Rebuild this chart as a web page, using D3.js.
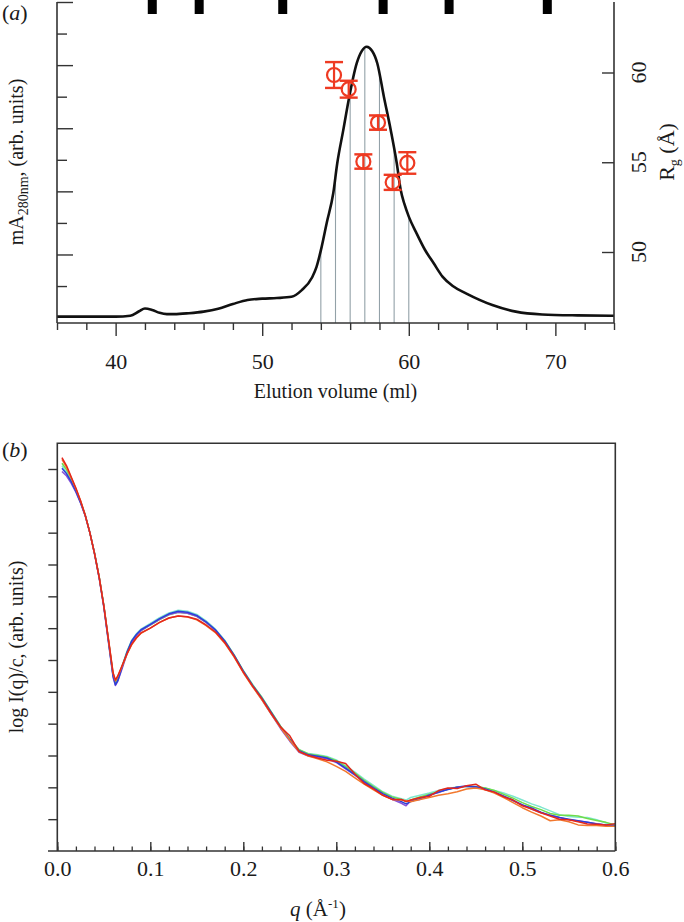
<!DOCTYPE html>
<html><head><meta charset="utf-8">
<script src="https://cdnjs.cloudflare.com/ajax/libs/d3/7.8.5/d3.min.js"></script>
<style>
body{margin:0;background:#fff}
svg{display:block}
text{font-family:"Liberation Serif","Times New Roman",serif;fill:#1a1a1a}
</style>
</head><body><svg id="c" width="684" height="922"></svg>
<script>
// ---------- Panel (a) data ----------
const elutionMl = [36,40,41,41.6,42,42.5,43,43.5,44,45,46,47,48,49,50,51,52.0,52.7,53.4,53.7,54.06,54.4,54.85,55.12,55.53,55.94,56.45,56.8,57.13,57.5,57.85,58.3,58.77,59.18,59.45,59.7,60.0,60.5,61.1,61.7,62.3,63.0,63.9,65.7,67.3,69.1,71.5,74];
const absorbance = [0.03,0.03,0.06,0.2,0.29,0.24,0.15,0.11,0.11,0.14,0.19,0.28,0.43,0.56,0.60,0.62,0.66,0.87,1.27,1.6,2.25,3.0,3.95,4.89,5.94,7.0,8.06,8.45,8.58,8.45,8.06,7.0,5.94,4.89,4.04,3.6,3.2,2.7,2.15,1.72,1.3,1.0,0.77,0.40,0.19,0.10,0.07,0.06];
const frameMl = [54,55,56,57,58,59,60];
const rgMl = [54.9,55.9,56.9,57.9,58.9,59.9];
const rgValue = [59.86,59.07,55.04,57.21,53.88,54.96];
const rgError = [0.72,0.47,0.4,0.4,0.42,0.6];
const standardsMl = [42.5,45.7,51.4,58.25,62.75,69.45];
const xTicksA = [40,50,60,70];
const rgTicks = [50,55,60];

// ---------- Panel (b) data ----------
const q = [0.005,0.01,0.015,0.02,0.025,0.03,0.035,0.04,0.045,0.05,0.055,0.06,0.0625,0.065,0.07,0.075,0.08,0.085,0.09,0.1,0.11,0.12,0.13,0.14,0.15,0.16,0.17,0.18,0.19,0.2,0.21,0.22,0.23,0.24,0.25,0.26,0.27,0.28,0.29,0.3,0.31,0.32,0.33,0.34,0.35,0.36,0.37,0.375,0.38,0.39,0.4,0.41,0.42,0.43,0.44,0.45,0.46,0.47,0.48,0.49,0.5,0.51,0.52,0.53,0.54,0.55,0.56,0.57,0.58,0.59,0.6];
const logI_cyan = [12.1,11.9,11.62,11.3,10.95,10.54,10.0,9.36,8.6,7.7,6.6,5.52,5.26,5.4,5.84,6.28,6.62,6.82,6.97,7.15,7.33,7.48,7.56,7.53,7.43,7.23,6.97,6.62,6.17,5.67,5.23,4.83,4.38,3.93,3.53,3.18,3.06,3.02,2.97,2.86,2.68,2.48,2.26,2.06,1.86,1.72,1.64,1.6,1.68,1.75,1.82,1.9,1.96,2.01,2.04,2.03,1.98,1.9,1.82,1.72,1.6,1.48,1.38,1.26,1.14,1.08,1.06,1.05,0.98,0.88,0.82];
const logI_green = [12.18,11.98,11.7,11.35,10.98,10.56,10.0,9.36,8.62,7.72,6.62,5.52,5.28,5.42,5.82,6.24,6.58,6.78,6.92,7.1,7.27,7.42,7.5,7.47,7.37,7.18,6.93,6.6,6.16,5.66,5.22,4.82,4.37,3.92,3.52,3.18,3.05,3.0,2.95,2.84,2.65,2.45,2.22,2.02,1.84,1.7,1.62,1.55,1.6,1.7,1.78,1.86,1.94,2.0,2.03,2.02,1.98,1.9,1.78,1.66,1.52,1.4,1.3,1.18,1.12,1.12,1.1,1.02,0.96,0.9,0.82];
const logI_purple = [11.92,11.78,11.55,11.27,10.93,10.53,10.0,9.34,8.58,7.66,6.55,5.45,5.2,5.33,5.76,6.2,6.55,6.76,6.92,7.1,7.28,7.43,7.5,7.47,7.37,7.18,6.93,6.58,6.13,5.63,5.18,4.76,4.3,3.85,3.45,3.1,2.98,2.95,2.9,2.78,2.58,2.38,2.16,1.96,1.78,1.62,1.5,1.42,1.58,1.62,1.76,1.84,1.95,2.0,2.05,2.0,1.94,1.84,1.72,1.58,1.45,1.32,1.2,1.12,1.05,0.98,0.94,0.9,0.86,0.82,0.8];
const logI_blue = [12.02,11.85,11.6,11.3,10.95,10.55,10.0,9.35,8.6,7.7,6.6,5.5,5.22,5.35,5.8,6.25,6.6,6.8,6.95,7.12,7.3,7.45,7.53,7.5,7.4,7.2,6.95,6.6,6.15,5.65,5.2,4.8,4.35,3.9,3.5,3.15,3.02,2.98,2.92,2.8,2.6,2.4,2.18,1.98,1.8,1.66,1.55,1.48,1.55,1.65,1.75,1.85,1.93,2.0,2.03,2.02,1.95,1.85,1.72,1.6,1.45,1.35,1.22,1.12,1.05,1.0,0.95,0.9,0.85,0.82,0.8];
const logI_orange = [12.3,12.05,11.72,11.38,11.0,10.55,10.0,9.35,8.62,7.72,6.65,5.58,5.35,5.48,5.82,6.18,6.48,6.68,6.84,7.0,7.18,7.32,7.38,7.35,7.26,7.08,6.86,6.53,6.1,5.6,5.16,4.75,4.3,3.88,3.48,3.12,2.98,2.9,2.8,2.66,2.5,2.3,2.1,1.92,1.75,1.62,1.6,1.58,1.55,1.62,1.68,1.75,1.8,1.86,1.95,1.98,1.92,1.82,1.68,1.52,1.36,1.22,1.1,0.95,0.98,0.92,0.82,0.8,0.8,0.78,0.78];
const logI_red = [12.36,12.1,11.75,11.4,11.0,10.55,10.0,9.35,8.6,7.7,6.65,5.6,5.37,5.5,5.85,6.2,6.5,6.7,6.85,7.0,7.18,7.32,7.38,7.36,7.28,7.1,6.88,6.55,6.12,5.62,5.18,4.78,4.32,3.9,3.62,3.12,3.0,2.92,2.85,2.82,2.75,2.42,2.12,1.95,1.75,1.62,1.62,1.55,1.6,1.68,1.72,1.9,1.98,1.96,2.05,2.1,1.92,1.85,1.7,1.6,1.42,1.32,1.2,1.1,1.0,0.98,0.92,0.85,0.84,0.82,0.86];
const seriesNames = ["cyan","green","purple","blue","orange","red"];
const seriesColors = ["#7fe6cf","#6fdc4a","#8a52d6","#2b3fd9","#f2782e","#e4261c"];
const seriesValues = [logI_cyan,logI_green,logI_purple,logI_blue,logI_orange,logI_red];
const xTicksB = [0,0.1,0.2,0.3,0.4,0.5,0.6];

const svg = d3.select("#c");
const axisColor = "#333";
const red = "#ee3a22";

// ================= Panel (a) =================
const xA = d3.scaleLinear().domain([36,74]).range([57,614]);
const yA = d3.scaleLinear().domain([0,10]).range([317.6,2]);
const yRg = d3.scaleLinear().domain([50,60]).range([252,72.5]);
const axisYA = 323, topA = 2;

const gA = svg.append("g");

const interpA = ml => {
  const i = d3.bisectLeft(elutionMl, ml);
  const x0 = elutionMl[i-1], x1 = elutionMl[i];
  const t = (ml - x0)/(x1 - x0);
  return absorbance[i-1] + t*(absorbance[i]-absorbance[i-1]);
};
gA.selectAll("line.frame").data(frameMl).join("line")
  .attr("x1", d=>xA(d)).attr("x2", d=>xA(d))
  .attr("y1", axisYA).attr("y2", d=>yA(interpA(d)))
  .attr("stroke","#93a1a8").attr("stroke-width",1.1);

gA.append("path").datum(elutionMl.map((m,i)=>[m,absorbance[i]]))
  .attr("fill","none").attr("stroke","#111").attr("stroke-width",2.6)
  .attr("d", d3.line().x(d=>xA(d[0])).y(d=>yA(d[1])).curve(d3.curveMonotoneX));

gA.selectAll("rect.std").data(standardsMl).join("rect")
  .attr("x", d=>xA(d)-4.5).attr("y",0).attr("width",9).attr("height",14).attr("fill","#000");

gA.append("line").attr("x1",57).attr("x2",57).attr("y1",topA).attr("y2",axisYA).attr("stroke",axisColor).attr("stroke-width",1.6);
const leftA = gA.append("g").attr("transform","translate(57,0)")
  .call(d3.axisRight(yA).tickValues(d3.range(1,11)).tickFormat("").tickSize(10));
leftA.select(".domain").remove();
leftA.selectAll(".tick line").attr("x2", d=> d%2===0 ? 16 : 10).attr("stroke",axisColor).attr("stroke-width",1.4);

const botA = gA.append("g").attr("transform",`translate(0,${axisYA})`)
  .call(d3.axisBottom(xA).tickValues(d3.range(36,75,2)).tickSize(7)
    .tickFormat(d => xTicksA.includes(d) ? d : ""));
botA.select(".domain").attr("d",`M${xA(36)},0H${xA(74)}`).attr("stroke",axisColor).attr("stroke-width",1.6);
botA.selectAll(".tick line").attr("y2", d => d%10===0 ? 13 : 7).attr("stroke",axisColor).attr("stroke-width",1.4);
botA.selectAll(".tick text").attr("y",30).attr("dy","0.71em").attr("font-size",22).attr("fill","#1a1a1a");

gA.append("line").attr("x1",614).attr("x2",614).attr("y1",topA).attr("y2",axisYA).attr("stroke",axisColor).attr("stroke-width",1.6);
const rightA = gA.append("g").attr("transform","translate(614,0)")
  .call(d3.axisLeft(yRg).tickValues(rgTicks).tickSize(12).tickFormat(""));
rightA.select(".domain").remove();
rightA.selectAll(".tick line").attr("stroke",axisColor).attr("stroke-width",1.4);
gA.selectAll("text.rgtick").data(rgTicks).join("text")
  .attr("transform", d=>`translate(646,${yRg(d)}) rotate(-90)`)
  .attr("text-anchor","middle").attr("font-size",22).text(d=>d);

const pts = gA.selectAll("g.rg").data(rgMl.map((m,i)=>({m,v:rgValue[i],e:rgError[i]}))).join("g");
pts.append("line").attr("x1",d=>xA(d.m)).attr("x2",d=>xA(d.m))
  .attr("y1",d=>yRg(d.v+d.e)).attr("y2",d=>yRg(d.v-d.e)).attr("stroke",red).attr("stroke-width",2.2);
pts.append("line").attr("x1",d=>xA(d.m)-9).attr("x2",d=>xA(d.m)+9)
  .attr("y1",d=>yRg(d.v+d.e)).attr("y2",d=>yRg(d.v+d.e)).attr("stroke",red).attr("stroke-width",2.4);
pts.append("line").attr("x1",d=>xA(d.m)-9).attr("x2",d=>xA(d.m)+9)
  .attr("y1",d=>yRg(d.v-d.e)).attr("y2",d=>yRg(d.v-d.e)).attr("stroke",red).attr("stroke-width",2.4);
pts.append("circle").attr("cx",d=>xA(d.m)).attr("cy",d=>yRg(d.v)).attr("r",7)
  .attr("fill","none").attr("stroke",red).attr("stroke-width",2.2);

gA.append("text").attr("x",2).attr("y",20).attr("font-size",22).html('(<tspan font-style="italic">a</tspan>)');
gA.append("text").attr("transform","translate(23,162) rotate(-90)").attr("text-anchor","middle").attr("font-size",20)
  .html('mA<tspan dy="5" font-size="14">280nm</tspan><tspan dy="-5">, (arb. units)</tspan>');
gA.append("text").attr("transform","translate(674,152) rotate(-90)").attr("text-anchor","middle").attr("font-size",22)
  .html('R<tspan dy="5" font-size="14">g</tspan><tspan dy="-5"> (Å)</tspan>');
gA.append("text").attr("x",(xA(36)+xA(74))/2).attr("y",398).attr("text-anchor","middle").attr("font-size",20).text("Elution volume (ml)");

// ================= Panel (b) =================
const xB = d3.scaleLinear().domain([0,0.6]).range([57.3,615.3]);
const yB = d3.scaleLinear().domain([0,12]).range([851,469]);
const topB = 443.3;
const gB = svg.append("g");

const lineB = d3.line().x(d=>xB(d[0])).y(d=>yB(d[1])).curve(d3.curveLinear);
gB.selectAll("path.s").data(seriesValues.map((vals,k)=>({name:seriesNames[k],color:seriesColors[k],pts:q.map((qq,i)=>[qq,vals[i]])})))
  .join("path").attr("fill","none").attr("stroke",d=>d.color).attr("stroke-width",1.5)
  .attr("stroke-linejoin","round").attr("d",d=>lineB(d.pts));

gB.append("path").attr("d",`M${xB(0)},${yB(0)}V${topB}H${xB(0.6)}V${yB(0)}`).attr("fill","none").attr("stroke",axisColor).attr("stroke-width",1.6);
gB.append("line").attr("x1",48).attr("x2",xB(0.6)).attr("y1",yB(0)).attr("y2",yB(0)).attr("stroke",axisColor).attr("stroke-width",1.6);

const leftB = gB.append("g").attr("transform",`translate(${xB(0)},0)`)
  .call(d3.axisLeft(yB).tickValues(d3.range(1,13)).tickSize(9).tickFormat(""));
leftB.select(".domain").remove();
leftB.selectAll(".tick line").attr("stroke",axisColor).attr("stroke-width",1.4);

const minorB = gB.append("g").attr("transform",`translate(0,${yB(0)})`)
  .call(d3.axisBottom(xB).tickValues(d3.range(0,31).map(i=>i*0.02)).tickSize(-4.5).tickFormat(""));
minorB.select(".domain").remove();
minorB.selectAll(".tick line").attr("stroke",axisColor).attr("stroke-width",1.3);
const majorB = gB.append("g").attr("transform",`translate(0,${yB(0)})`)
  .call(d3.axisBottom(xB).tickValues(xTicksB).tickSize(-9).tickPadding(9).tickFormat(d3.format(".1f")));
majorB.select(".domain").remove();
majorB.selectAll(".tick line").attr("stroke",axisColor).attr("stroke-width",1.4);
majorB.selectAll(".tick text").attr("font-size",22).attr("fill","#1a1a1a");

gB.append("text").attr("x",2).attr("y",457).attr("font-size",22).html('(<tspan font-style="italic">b</tspan>)');
gB.append("text").attr("transform","translate(23,647) rotate(-90)").attr("text-anchor","middle").attr("font-size",20)
  .text("log I(q)/c, (arb. units)");
gB.append("text").attr("x",318).attr("y",916).attr("text-anchor","middle").attr("font-size",21)
  .html('<tspan font-style="italic">q</tspan> (Å<tspan dy="-8" font-size="13">-1</tspan><tspan dy="8">)</tspan>');
</script>
</body></html>
